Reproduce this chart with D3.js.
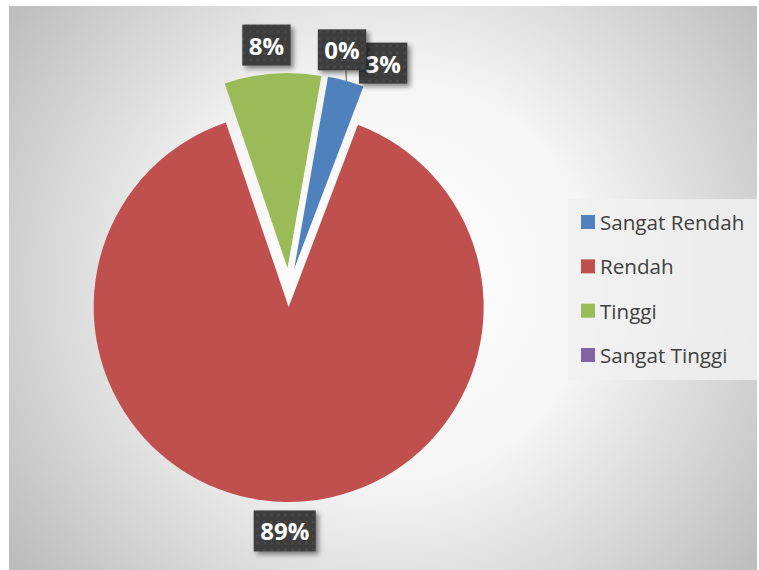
<!DOCTYPE html>
<html><head><meta charset="utf-8">
<script src="https://cdn.jsdelivr.net/npm/d3@7"></script>
<style>html,body{margin:0;padding:0;background:#fff;}svg{display:block;}</style>
</head><body>
<svg id="chart" width="759" height="570"></svg>
<script>
const categories = ["Sangat Rendah", "Rendah", "Tinggi", "Sangat Tinggi"];
const values = [3, 89, 8, 0];
const labels = ["3%", "89%", "8%", "0%"];
const colors = ["#4f81bd", "#c0504d", "#9bbb59", "#8064a2"];
const labelNudgeDeg = [8, 0, -1, 2.8];

const svg = d3.select("#chart");
const defs = svg.append("defs");

const bg = defs.append("radialGradient").attr("id","bg").attr("gradientUnits","userSpaceOnUse")
  .attr("cx",390).attr("cy",280).attr("r",480);
bg.append("stop").attr("offset","0").attr("stop-color","#ffffff");
bg.append("stop").attr("offset","0.42").attr("stop-color","#f5f5f5");
bg.append("stop").attr("offset","1").attr("stop-color","#bababa");

const pat = defs.append("pattern").attr("id","dots").attr("width",7).attr("height",7).attr("patternUnits","userSpaceOnUse");
pat.append("rect").attr("width",7).attr("height",7).attr("fill","#3c3c3c");
pat.append("circle").attr("cx",3.5).attr("cy",3.5).attr("r",1.3).attr("fill","#4d4d4d");

const sh = defs.append("filter").attr("id","shadow").attr("x","-30%").attr("y","-30%").attr("width","170%").attr("height","170%");
sh.append("feDropShadow").attr("dx",3).attr("dy",3).attr("stdDeviation",2.5).attr("flood-color","#000").attr("flood-opacity",0.45);

// chart area
const area = {x: 9, y: 6, w: 748, h: 564};
svg.append("rect").attr("x",area.x).attr("y",area.y).attr("width",area.w).attr("height",area.h).attr("fill","url(#bg)");

const cx = 289, cy = 287.5, R = 195, explode = 19.5, labelR = 224;
const deg = Math.PI/180;
const pie = d3.pie().sort(null).value(d=>d).startAngle(10*deg).endAngle(370*deg);
const arcs = pie(values);
const arc = d3.arc().innerRadius(0).outerRadius(R);

const g = svg.append("g").attr("transform",`translate(${cx},${cy})`);
function off(a, r){ return [Math.sin(a)*r, -Math.cos(a)*r]; }

g.selectAll("path.slice").data(arcs).enter().append("path")
  .attr("class","slice")
  .attr("d", arc)
  .attr("fill",(d,i)=>colors[i])
  .attr("transform", d=>{ const m=(d.startAngle+d.endAngle)/2; const o=off(m,explode); return `translate(${o[0]},${o[1]})`; });

// labels
const lab = g.append("g").attr("font-family","'Open Sans', sans-serif").attr("font-weight","bold").attr("font-size","24px");
const order = [2,1,0,3];
order.forEach(i=>{
  const d = arcs[i];
  const m = (d.startAngle+d.endAngle)/2;
  const c = off(m, explode);
  const p = off(m + labelNudgeDeg[i]*deg, labelR);
  const x = c[0]+p[0], y = c[1]+p[1];
  const grp = lab.append("g");
  const t = grp.append("text").attr("x",x).attr("y",y).attr("text-anchor","middle").attr("dominant-baseline","central").attr("fill","#ffffff").text(labels[i]);
  const w = t.node().getComputedTextLength() + 13, h = 41;
  grp.insert("rect","text").attr("x",x-w/2).attr("y",y-h/2).attr("width",w).attr("height",h).attr("fill","url(#dots)").attr("filter","url(#shadow)");
  if (values[i] === 0) {
    grp.insert("line","rect").attr("x1",x+4).attr("y1",y+h/2).attr("x2",x+4.5).attr("y2",y+h/2+12).attr("stroke","#8c8c8c").attr("stroke-width",1.5);
  }
});

// legend
const leg = svg.append("g");
leg.append("rect").attr("x",568).attr("y",199).attr("width",189).attr("height",181).attr("fill","#f0f0f0").attr("opacity",0.85);
const ly = d3.scalePoint().domain(categories).range([222, 355]);
const items = leg.selectAll("g.it").data(categories).enter().append("g").attr("class","it");
items.append("rect").attr("x",581).attr("y",d=>ly(d)-7).attr("width",14).attr("height",14).attr("fill",(d,i)=>colors[i]);
items.append("text").attr("x",600).attr("y",d=>ly(d)).attr("dominant-baseline","central")
  .attr("font-family","'Open Sans', sans-serif").attr("font-size","20.6px").attr("fill","#404040").text(d=>d);
</script>
</body></html>
